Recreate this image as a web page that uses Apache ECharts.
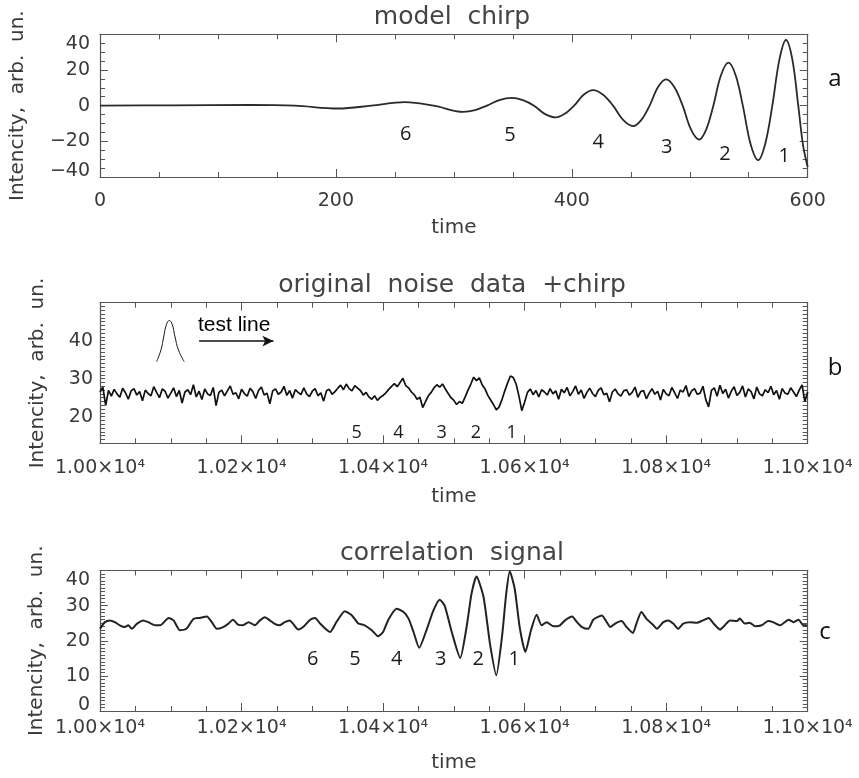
<!DOCTYPE html>
<html><head><meta charset="utf-8">
<script src="https://cdn.jsdelivr.net/npm/echarts@6/dist/echarts.min.js"></script>
<style>html,body{margin:0;padding:0;background:#fff}#c{width:859px;height:778px}</style>
</head><body><div id="c"></div>
<script>
// ---------- panel a: model chirp ----------
const chirpTime  = [0, 60, 127, 165, 202, 230, 258.6, 283, 308, 318, 328, 338.5, 349, 358.5, 368, 377, 386.6, 394, 402, 410, 418, 426.5, 435, 443.5, 452, 459, 466, 473, 480, 487, 494, 501, 508, 514, 520, 526.4, 532.8, 539, 545, 551.5, 558, 564, 570, 576, 581.6, 587, 592, 596, 600];
const chirpValue = [0, 0.2, 0.4, 0, -1.6, 0, 2.0, 0, -3.5, -2.5, 0, 3.1, 4.4, 3.1, 0, -4.6, -6.6, -4.6, 0, 6.1, 8.7, 6.1, 0, -8.0, -11.5, -8.0, 0, 10.3, 14.7, 10.3, 0, -13.3, -19, -13.3, 0, 16.9, 24.1, 16.9, 0, -21.4, -30.6, -21.4, 0, 25.8, 36.8, 25.8, 0, -22, -34.4];

// ---------- panel b: original noise data + chirp (sampled every 4 time units) ----------
const noiseStart = 10000, noiseStep = 4;
const noiseValue = [
26.5,27.8,23.0,26.9,25.4,27.2,26.0,25.1,27.5,26.3,24.6,26.8,27.4,25.7,26.6,24.2,27.0,26.1,25.5,27.9,26.4,25.0,27.3,26.7,24.9,
26.2,27.6,25.3,26.9,23.6,26.5,27.1,25.8,28.4,25.2,26.7,24.5,27.3,26.0,25.6,27.7,22.9,26.4,27.0,25.5,26.8,28.1,25.9,26.3,24.7,
27.2,26.1,25.4,27.5,26.6,24.8,26.9,27.8,25.7,26.2,23.4,26.8,27.3,25.9,26.5,28.0,25.6,26.9,24.9,27.1,26.4,25.8,27.6,26.0,25.3,
26.7,27.4,25.5,26.3,24.1,26.8,27.2,25.9,26.6,27.5,28.3,27.1,28.6,27.4,26.8,28.2,27.5,26.9,25.7,26.4,25.2,24.6,25.5,24.3,25.1,
25.6,26.3,27.2,28.0,28.7,27.9,29.0,30.1,28.2,27.6,26.5,25.8,24.6,25.1,22.4,24.0,25.5,26.4,27.6,28.4,27.8,28.6,27.3,26.1,25.0,
24.3,23.2,24.0,23.5,25.2,27.0,28.6,30.4,29.5,30.2,28.4,27.3,25.6,24.4,23.2,21.8,22.6,24.5,26.8,28.9,30.7,30.3,28.6,25.4,21.6,
23.8,26.4,27.3,25.8,26.9,25.2,27.1,26.5,25.7,27.4,26.0,26.8,24.6,27.2,26.3,27.7,25.5,26.6,28.1,25.9,27.0,24.8,26.4,27.5,26.1,
25.3,26.9,27.6,25.8,26.2,23.9,26.5,27.3,26.0,25.4,26.8,27.1,25.7,26.4,27.8,25.1,26.6,26.9,24.7,26.2,27.4,25.9,26.7,24.4,27.2,
26.0,25.5,27.7,26.3,24.8,27.0,26.5,28.2,25.3,26.8,27.4,25.9,26.2,28.0,24.5,22.6,26.9,27.6,25.4,28.3,26.1,27.2,24.9,26.7,27.9,
25.6,26.4,28.1,25.2,27.3,26.6,24.7,27.8,26.0,25.5,27.1,26.3,28.0,25.8,26.9,24.6,27.4,26.2,25.9,27.6,26.5,25.3,27.0,28.4,24.0,
26.5];
const testLineTime  = [10080, 10086, 10090, 10094, 10098, 10102, 10106, 10111, 10119];
const testLineValue = [34.5, 37.5, 41.0, 44.3, 45.3, 44.3, 41.0, 37.5, 34.5];
const arrowTime = [10140, 10245];
const arrowValue = 39.9;

// ---------- panel c: correlation signal ----------
const corrTime = [10000,10007,10014,10021,10028,10035,10040,10045,10052,10061,10068,10078,10085,10097,10104,10113,10122,10132,10141,10151,10158,10165,10174,10181,10188,10195,10202,10210,10219,10226,10233,10240,10247,10254,10261,10268,10273,10280,10287,10297,10304,10311,
10325,10334,10346,10356,10365,10374,10384,10393,10400,10407,10419,10429,10436,10443,10451,10462,10471,10480,10487,10497,10509,10518,10525,10532,10542,10551,10560,10568,10574,10579,10586,10593,10601,10609,10617,10624,10631,10641,10650,
10657,10667,10674,10681,10690,10697,10709,10716,10721,10728,10737,10744,10753,10758,10765,10772,10782,10787,10796,10803,10810,10817,10824,10834,10843,10852,10860,10867,10876,10883,10890,10900,10904,10911,10918,10926,10935,10944,10951,10961,10973,10980,10987,10994,10999];
const corrValue = [23.4,25.3,25.8,25.3,24.4,23.9,24.4,23.4,24.8,25.8,25.3,24.4,24.4,26.5,25.8,23.0,23.4,26.2,26.5,26.9,25.3,23.4,23.9,24.8,26.0,24.6,24.4,25.3,24.4,25.8,26.7,25.8,24.8,24.4,25.3,25.8,24.8,23.2,23.9,26.0,26.5,24.9,
22.5,25.3,28.4,27.2,24.9,24.4,23.0,21.3,22.5,25.8,29.1,28.2,26.3,22.5,18.0,23.4,28.6,31.7,30.0,22.5,15.1,23.9,33.4,38.3,32.4,19.2,10.2,21.1,33.4,39.8,34.8,23.9,16.8,23.0,27.4,24.4,25.3,24.1,24.4,
25.8,26.9,25.3,23.9,23.4,26.0,27.2,25.3,23.9,24.9,25.6,23.9,22.2,24.9,28.2,26.3,24.4,23.4,25.3,25.8,24.9,23.4,24.9,25.3,25.1,25.8,26.5,24.9,23.2,24.4,25.8,25.6,26.3,24.9,25.1,24.1,24.4,25.6,25.3,24.4,26.0,25.3,26.0,24.4,24.4];

// ---------- tick label settings ----------
const labelsB = [20, 30, 40];
const timeLabelsBig = v => (v / 10000).toFixed(2) + '×10⁴';

const FONT = 'DejaVu Sans';
const AX = '#555';
const LBL = '#3a3a3a';

function zip(a, b) { return a.map((x, i) => [x, b[i]]); }

function xPair(gi, min, max, interval, minor, fmt, margin, nameGap) {
  const base = {
    type: 'value', gridIndex: gi, min, max, interval,
    axisLine: { show: true, onZero: false, lineStyle: { color: AX, width: 1.2 } },
    axisTick: { show: true, inside: true, length: 8, lineStyle: { color: AX, width: 1 } },
    minorTick: { show: true, splitNumber: minor, length: 5, lineStyle: { color: AX, width: 1 } },
    splitLine: { show: false }, minorSplitLine: { show: false }
  };
  return [
    Object.assign({}, base, {
      position: 'bottom',
      axisLabel: { show: true, margin, formatter: fmt, fontFamily: FONT, fontSize: 19, color: LBL },
      name: 'time', nameLocation: 'middle', nameGap,
      nameTextStyle: { fontFamily: FONT, fontSize: 20, color: LBL }
    }),
    Object.assign({}, base, { position: 'top', axisLabel: { show: false } })
  ];
}

function yPair(gi, min, max, interval, minor, fmt, rich, margin, nameGap, tickLen) {
  const base = {
    type: 'value', gridIndex: gi, min, max, interval,
    axisLine: { show: true, onZero: false, lineStyle: { color: AX, width: 1.2 } },
    axisTick: { show: true, inside: true, length: tickLen, lineStyle: { color: AX, width: 1 } },
    minorTick: { show: minor > 1, splitNumber: minor || 1, length: 5, lineStyle: { color: AX, width: 1 } },
    splitLine: { show: false }, minorSplitLine: { show: false }
  };
  return [
    Object.assign({}, base, {
      position: 'left',
      axisLabel: { show: true, margin, formatter: fmt, rich, fontFamily: FONT, fontSize: 19, color: LBL },
      name: 'Intencity,  arb.  un.', nameLocation: 'middle', nameGap, nameRotate: 90,
      nameTextStyle: { fontFamily: FONT, fontSize: 20, color: LBL }
    }),
    Object.assign({}, base, { position: 'right', axisLabel: { show: false } })
  ];
}

const rs = { fontFamily: FONT, fontSize: 19, color: LBL };
const richTopBottom = {
  t: Object.assign({}, rs, { padding: [20, 0, 0, 0] }),
  b: Object.assign({}, rs, { padding: [0, 0, 12, 0] })
};

const fmtA = v => {
  const s = v < 0 ? '−' + (-v) : String(v);
  if (v === 40) return '{t|' + s + '}';
  if (v === -40) return '{b|' + s + '}';
  return s;
};
const fmtB = v => (labelsB.indexOf(v) >= 0 ? String(v) : '');
const fmtC = v => {
  if (v === 40) return '{t|40}';
  if (v === 0) return '{b|0}';
  return String(v);
};

const xa = xPair(0, 0, 600, 200, 4, v => String(v), 15, 41);
const xb = xPair(1, 10000, 11000, 200, 4, timeLabelsBig, 15, 43);
const xc = xPair(2, 10000, 11000, 200, 4, timeLabelsBig, 8, 42);
const ya = yPair(0, -40, 40, 20, 4, fmtA, richTopBottom, 10, 72, 8);
const yb = yPair(1, 13, 50, 1, 0, fmtB, {}, 7, 52, 5);
const yc = yPair(2, 0, 40, 10, 10, fmtC, richTopBottom, 10, 53, 8);

function txt(x, y, text, size, family, color, align, weight) {
  return { type: 'text', x, y, silent: true,
    style: { text, fontSize: size, fontFamily: family, fill: color, align: align || 'center', verticalAlign: 'middle', fontWeight: weight || 'normal' } };
}

const OS = 'Open Sans';
const graphics = [
  txt(452, 17, 'model  chirp', 25, FONT, '#444'),
  txt(452, 285, 'original  noise  data  +chirp', 25, FONT, '#444'),
  txt(452, 553, 'correlation  signal', 25, FONT, '#444'),
  txt(835, 79, 'a', 24, OS, '#111'),
  txt(835, 368, 'b', 24, OS, '#111'),
  txt(825, 632, 'c', 24, OS, '#111'),
  txt(198, 325, 'test line', 21, 'Liberation Sans', '#000', 'left'),
  // panel a period numbers
  txt(405.7, 134.3, '6', 20, OS, '#1a1a1a'), txt(510, 135, '5', 20, OS, '#1a1a1a'),
  txt(598.3, 142.7, '4', 20, OS, '#1a1a1a'), txt(666.7, 147.7, '3', 20, OS, '#1a1a1a'),
  txt(725, 154, '2', 20, OS, '#1a1a1a'), txt(784.3, 156, '1', 20, OS, '#1a1a1a'),
  // panel b
  txt(356.7, 432.7, '5', 18, OS, '#1a1a1a'), txt(398.3, 432.7, '4', 18, OS, '#1a1a1a'),
  txt(441.7, 432.7, '3', 18, OS, '#1a1a1a'), txt(476, 432.7, '2', 18, OS, '#1a1a1a'),
  txt(511.7, 432.7, '1', 18, OS, '#1a1a1a'),
  // panel c
  txt(312.7, 659.3, '6', 20, OS, '#1a1a1a'), txt(355, 659.3, '5', 20, OS, '#1a1a1a'),
  txt(396.7, 659.3, '4', 20, OS, '#1a1a1a'), txt(440.7, 659.3, '3', 20, OS, '#1a1a1a'),
  txt(478.3, 659.3, '2', 20, OS, '#1a1a1a'), txt(514.3, 659.3, '1', 20, OS, '#1a1a1a')
];

const noiseData = noiseValue.map((v, i) => [noiseStart + i * noiseStep, v]);

const option = {
  animation: false,
  backgroundColor: '#fff',
  grid: [
    { left: 100, top: 34.3, width: 707.7, height: 142.7 },
    { left: 100, top: 302.7, width: 707.7, height: 140.6 },
    { left: 100, top: 570.5, width: 707.7, height: 140.5 }
  ],
  xAxis: [xa[0], xa[1], xb[0], xb[1], xc[0], xc[1]],
  yAxis: [ya[0], ya[1], yb[0], yb[1], yc[0], yc[1]],
  graphic: graphics,
  series: [
    { type: 'line', xAxisIndex: 0, yAxisIndex: 0, data: zip(chirpTime, chirpValue), smooth: 0.35,
      symbol: 'none', lineStyle: { color: '#2a2a2a', width: 1.8 }, clip: true },
    { type: 'line', xAxisIndex: 2, yAxisIndex: 2, data: noiseData, symbol: 'none',
      lineStyle: { color: '#111', width: 1.7 } },
    { type: 'line', xAxisIndex: 2, yAxisIndex: 2, data: zip(testLineTime, testLineValue), smooth: 0.5,
      symbol: 'none', lineStyle: { color: '#111', width: 1 },
      markLine: { silent: true, symbol: ['none', 'arrow'], symbolSize: [8, 11], label: { show: false },
        lineStyle: { color: '#111', width: 1.5, type: 'solid' },
        data: [[{ coord: [arrowTime[0], arrowValue] }, { coord: [arrowTime[1], arrowValue] }]] } },
    { type: 'line', xAxisIndex: 4, yAxisIndex: 4, data: zip(corrTime, corrValue), smooth: 0.2,
      symbol: 'none', lineStyle: { color: '#222', width: 2 } }
  ]
};

const chart = echarts.init(document.getElementById('c'), null, { renderer: 'canvas' });
chart.setOption(option);
</script></body></html>
